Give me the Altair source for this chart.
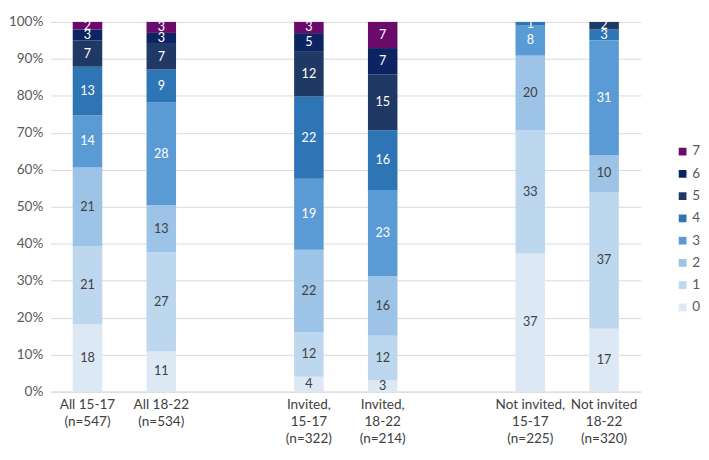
import altair as alt
import pandas as pd

groups = ["All 15-17|(n=547)", "All 18-22|(n=534)", " ",
          "Invited,|15-17|(n=322)", "Invited,|18-22|(n=214)", "  ",
          "Not invited,|15-17|(n=225)", "Not invited|18-22|(n=320)"]
scores = ["0", "1", "2", "3", "4", "5", "6", "7"]

all_15_17 = [18, 21, 21, 14, 13, 7, 3, 2]
all_18_22 = [11, 27, 13, 28, 9, 7, 3, 3]
inv_15_17 = [4, 12, 22, 19, 22, 12, 5, 3]
inv_18_22 = [3, 12, 16, 23, 16, 15, 7, 7]
notinv_15_17 = [37, 33, 20, 8, 1, 0, 0, 0]
notinv_18_22 = [17, 37, 10, 31, 3, 2, 0, 0]

colors = ["#dde8f5", "#bdd7ee", "#9dc3e6", "#5b9bd5", "#2e75b6", "#203864", "#0c2461", "#6a0a6b"]

series = {
    groups[0]: all_15_17,
    groups[1]: all_18_22,
    groups[3]: inv_15_17,
    groups[4]: inv_18_22,
    groups[6]: notinv_15_17,
    groups[7]: notinv_18_22,
}

rows = []
for g, vals in series.items():
    for i, v in enumerate(vals):
        rows.append({"group": g, "score": scores[i], "num": i, "value": v})
df = pd.DataFrame(rows)

FONT = "Lato"

base = alt.Chart(df).transform_stack(
    stack="value", groupby=["group"], sort=[alt.SortField("num", order="ascending")],
    offset="normalize", as_=["y0", "y1"]
).transform_calculate(mid="(datum.y0 + datum.y1) / 2")

xscale = alt.Scale(domain=groups, paddingInner=0.6, paddingOuter=0.3)
yscale = alt.Scale(domain=[0, 1], nice=False)

xaxis = alt.Axis(title=None, labelAngle=0, labelExpr="split(datum.label, '|')",
                 labelFontSize=14, labelColor="#404040", labelFont=FONT,
                 labelPadding=6, labelLineHeight=18,
                 ticks=False, domain=True, domainColor="#d9d9d9")
yaxis = alt.Axis(title=None, format="%", values=[i / 10 for i in range(11)],
                 labelOverlap=False,
                 labelFontSize=14, labelColor="#595959", labelFont=FONT,
                 labelPadding=8, grid=True, gridColor="#d9d9d9",
                 ticks=False, domain=False)

bars = base.mark_bar().encode(
    x=alt.X("group:N", sort=groups, scale=xscale, axis=xaxis),
    y=alt.Y("y0:Q", scale=yscale, axis=yaxis),
    y2="y1:Q",
    color=alt.Color("score:N",
                    scale=alt.Scale(domain=scores[::-1], range=colors[::-1]),
                    legend=alt.Legend(title=None, orient="none", legendX=646, legendY=127,
                                      symbolType="square", symbolSize=64, symbolStrokeWidth=0,
                                      labelFontSize=14, labelColor="#595959", labelFont=FONT,
                                      rowPadding=9, labelOffset=3)),
)

labels = base.transform_filter("datum.value > 0").mark_text(
    fontSize=13, font=FONT, baseline="middle", align="center"
).encode(
    x=alt.X("group:N", sort=groups, scale=xscale, axis=xaxis),
    y=alt.Y("mid:Q", scale=yscale, axis=yaxis),
    text=alt.Text("value:Q"),
    color=alt.condition("datum.num <= 2", alt.value("#404040"), alt.value("white")),
)

chart = alt.layer(bars, labels).properties(
    width=610, height=382,
    padding={"left": 0, "top": 0, "right": 0, "bottom": 0},
).configure_view(stroke=None)

chart.save("out.html", embed_options={"renderer": "svg", "actions": False})
